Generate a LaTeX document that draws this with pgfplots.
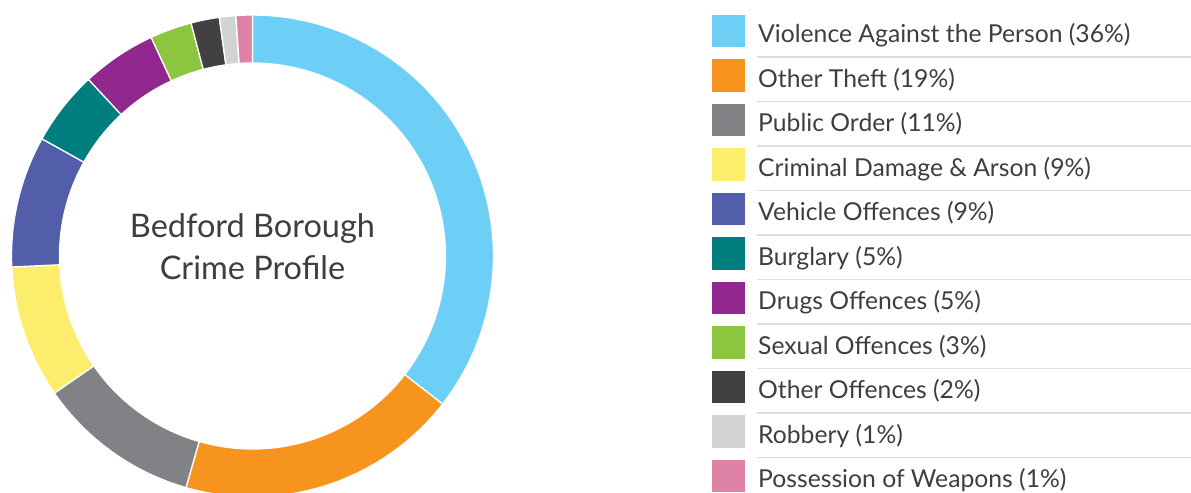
\documentclass[border=0pt]{standalone}
\usepackage{pgfplots}
\usepackage{pgfplotstable}
\pgfplotsset{compat=1.18}
\usepackage{fontspec}
\setmainfont{Lato}
\definecolor{c0}{HTML}{6DCFF6}
\definecolor{c1}{HTML}{F7941E}
\definecolor{c2}{HTML}{808285}
\definecolor{c3}{HTML}{FCEE6C}
\definecolor{c4}{HTML}{525EA9}
\definecolor{c5}{HTML}{007E7E}
\definecolor{c6}{HTML}{92278F}
\definecolor{c7}{HTML}{8CC63F}
\definecolor{c8}{HTML}{414042}
\definecolor{c9}{HTML}{D1D3D4}
\definecolor{c10}{HTML}{DE83A7}
\definecolor{txt}{HTML}{3E3E40}
\definecolor{sep}{HTML}{DCDDDE}

\pgfplotstableread{
idx value
0 35.5
1 18.9
2 10.9
3 8.9
4 8.8
5 5.0
6 5.0
7 2.8
8 1.9
9 1.1
10 1.1
}\crimedata

\newcommand\legitem[2]{%
  \pgfmathsetmacro\ytop{15+44.5*#1}%
  \pgfmathsetmacro\ybot{\ytop+32.5}%
  \pgfmathsetmacro\ybase{\ytop+28}%
  \edef\tmp{\noexpand\fill[c#1] (axis cs:712,-\ytop) rectangle (axis cs:745,-\ybot);
    \noexpand\node[anchor=base west, inner sep=0pt, text=txt, font=\noexpand\fontsize{24.7bp}{28bp}\noexpand\selectfont] at (axis cs:758,-\ybase) {\unexpanded{#2}};}%
  \tmp
}
\newcommand\sepline[1]{%
  \pgfmathsetmacro\ly{15+44.5*#1+42}%
  \edef\tmp{\noexpand\draw[sep, line width=1.2bp] (axis cs:757,-\ly) -- (axis cs:1191,-\ly);}%
  \tmp
}

\begin{document}
\begin{tikzpicture}[
  declare function={
    ringr(\k)=(\k<=50) ? 241 : 193;
    ringa(\k,\p,\q)=90-((\k<=50) ? (\p+(\q-\p)*\k/50) : (\q-(\q-\p)*(\k-50)/50));
  }]
\begin{axis}[
  x=1bp, y=1bp, xmin=0, xmax=1191, ymin=-493, ymax=0,
  hide axis, scale only axis, clip=true,
  seg/.style={draw=white, line width=1.3bp, samples at={0,...,50,50.0001,51,52,...,100}, variable=\k},
]
\path (rel axis cs:0,0) rectangle (rel axis cs:1,1);
\def\total{0}
\pgfplotsforeachungrouped \i in {0,...,10}{%
  \pgfplotstablegetelem{\i}{value}\of\crimedata
  \pgfmathsetmacro\total{\total+\pgfplotsretval}%
}
\def\cum{0}
\pgfplotsforeachungrouped \i in {0,...,10}{%
  \pgfplotstablegetelem{\i}{value}\of\crimedata
  \pgfmathsetmacro\a{\cum/\total*360}%
  \pgfmathsetmacro\newcum{\cum+\pgfplotsretval}%
  \pgfmathsetmacro\b{\newcum/\total*360}%
  \edef\doplot{\noexpand\addplot[seg, fill=c\i] ({252.5+ringr(\noexpand\k)*cos(ringa(\noexpand\k,\a,\b))},{-256+ringr(\noexpand\k)*sin(ringa(\noexpand\k,\a,\b))}) -- cycle;}%
  \doplot
  \let\cum\newcum
}
\node[anchor=base, text=txt, font=\fontsize{32.5bp}{36bp}\selectfont] at (axis cs:252.5,-238) {Bedford Borough};
\node[anchor=base, text=txt, font=\fontsize{32.5bp}{36bp}\selectfont] at (axis cs:252.5,-280) {Crime Profile};
\legitem{0}{Violence Against the Person (36\%)}
\legitem{1}{Other Theft (19\%)}
\legitem{2}{Public Order (11\%)}
\legitem{3}{Criminal Damage \& Arson (9\%)}
\legitem{4}{Vehicle Offences (9\%)}
\legitem{5}{Burglary (5\%)}
\legitem{6}{Drugs Offences (5\%)}
\legitem{7}{Sexual Offences (3\%)}
\legitem{8}{Other Offences (2\%)}
\legitem{9}{Robbery (1\%)}
\legitem{10}{Possession of Weapons (1\%)}
\sepline{0}\sepline{1}\sepline{2}\sepline{3}\sepline{4}
\sepline{5}\sepline{6}\sepline{7}\sepline{8}\sepline{9}
\end{axis}
\end{tikzpicture}
\end{document}
